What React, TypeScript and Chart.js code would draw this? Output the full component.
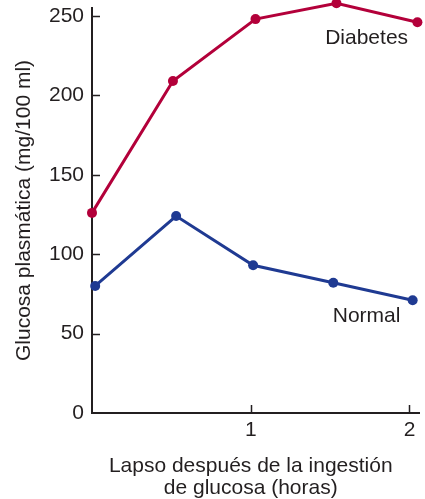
import React, { useEffect, useRef } from "react";
import { Chart, registerables } from "chart.js";

Chart.register(...registerables);

// ---- data ----
const DIABETES_X = [0, 0.51, 1.03, 1.54, 2.05];
const DIABETES_Y = [126, 209, 248, 258, 246];
const NORMAL_X = [0.02, 0.53, 1.015, 1.52, 2.02];
const NORMAL_Y = [80, 124, 93, 82, 71];
const X_TICKS = [1, 2];
const Y_TICKS = [0, 50, 100, 150, 200, 250];
const SERIES_NAMES = ["Diabetes", "Normal"];
const Y_TITLE = "Glucosa plasmática (mg/100 ml)";
const X_TITLE = ["Lapso después de la ingestión", "de glucosa (horas)"];

// label anchors (data coordinates)
const LABEL_ANCHORS = [
  { x: 1.73, y: 236 },
  { x: 1.73, y: 61 },
];

const RED = "#b3003a";
const BLUE = "#1f3a92";
const INK = "#231f20";
const FONT = "'Liberation Sans', Arial, Helvetica, sans-serif";

const overlayPlugin = {
  id: "overlay",
  afterDraw(chart: any) {
    const { ctx, chartArea, scales } = chart;
    const xs = scales.x;
    const ys = scales.y;
    ctx.save();
    ctx.strokeStyle = INK;
    ctx.lineWidth = 1.5;
    ctx.beginPath();
    Y_TICKS.forEach((v) => {
      if (v === 0) return;
      const py = Math.round(ys.getPixelForValue(v)) + 0.5;
      ctx.moveTo(chartArea.left, py);
      ctx.lineTo(chartArea.left + 8, py);
    });
    X_TICKS.forEach((v) => {
      const px = Math.round(xs.getPixelForValue(v)) + 0.5;
      ctx.moveTo(px, chartArea.bottom);
      ctx.lineTo(px, chartArea.bottom - 8);
    });
    ctx.stroke();

    ctx.fillStyle = INK;
    ctx.font = `21px ${FONT}`;
    ctx.textAlign = "center";
    ctx.textBaseline = "middle";
    SERIES_NAMES.forEach((name, i) => {
      const a = LABEL_ANCHORS[i];
      ctx.fillText(name, xs.getPixelForValue(a.x), ys.getPixelForValue(a.y));
    });

    // x-axis title, centred under the "1" tick as in the original figure
    const cx = xs.getPixelForValue(1);
    X_TITLE.forEach((line, i) => {
      ctx.fillText(line, cx, xs.bottom - 11 - 22 * (X_TITLE.length - 1 - i));
    });
    ctx.restore();
  },
};

export default function App() {
  const ref = useRef<HTMLCanvasElement>(null);

  useEffect(() => {
    if (!ref.current) return;
    const chart = new Chart(ref.current, {
      type: "line",
      data: {
        datasets: [
          {
            label: SERIES_NAMES[0],
            data: DIABETES_X.map((x, i) => ({ x, y: DIABETES_Y[i] })),
            borderColor: RED,
            backgroundColor: RED,
            borderWidth: 3,
            pointRadius: 5,
            pointBorderWidth: 0,
            pointBackgroundColor: RED,
            tension: 0,
            clip: false as any,
          },
          {
            label: SERIES_NAMES[1],
            data: NORMAL_X.map((x, i) => ({ x, y: NORMAL_Y[i] })),
            borderColor: BLUE,
            backgroundColor: BLUE,
            borderWidth: 3,
            pointRadius: 5,
            pointBorderWidth: 0,
            pointBackgroundColor: BLUE,
            tension: 0,
            clip: false as any,
          },
        ],
      },
      options: {
        responsive: false,
        animation: false,
        layout: { padding: { top: 8, right: 6, left: 0, bottom: 0 } },
        plugins: {
          legend: { display: false },
          tooltip: { enabled: false },
          title: { display: false },
        },
        scales: {
          x: {
            type: "linear",
            min: 0,
            max: 2.06,
            grid: { display: false, drawTicks: false },
            border: { display: true, color: INK, width: 2 },
            ticks: {
              color: INK,
              font: { family: FONT, size: 21 },
              padding: 5,
              includeBounds: false,
              autoSkip: false,
              maxRotation: 0,
            },
            afterBuildTicks: (scale: any) => {
              scale.ticks = X_TICKS.map((v) => ({ value: v }));
            },
            afterFit: (scale: any) => {
              scale.height = 86;
              scale.paddingLeft = 0;
              scale.paddingRight = 0;
            },
            title: { display: false },
          },
          y: {
            type: "linear",
            min: 0,
            max: 255,
            grid: { display: false, drawTicks: false },
            border: { display: true, color: INK, width: 2 },
            ticks: {
              color: INK,
              font: { family: FONT, size: 21 },
              padding: 8,
              includeBounds: false,
              autoSkip: false,
            },
            afterBuildTicks: (scale: any) => {
              scale.ticks = Y_TICKS.map((v) => ({ value: v }));
            },
            afterFit: (scale: any) => {
              scale.width = 92;
              scale.paddingTop = 0;
              scale.paddingBottom = 0;
            },
            title: {
              display: true,
              text: Y_TITLE,
              color: INK,
              font: { family: FONT, size: 21, lineHeight: 1.2 },
              padding: { top: 12, bottom: 0 },
            },
          },
        },
      },
      plugins: [overlayPlugin],
    });
    return () => chart.destroy();
  }, []);

  return (
    <canvas
      ref={ref}
      width={425}
      height={499}
      style={{ position: "absolute", left: 0, top: 0, display: "block" }}
    />
  );
}
